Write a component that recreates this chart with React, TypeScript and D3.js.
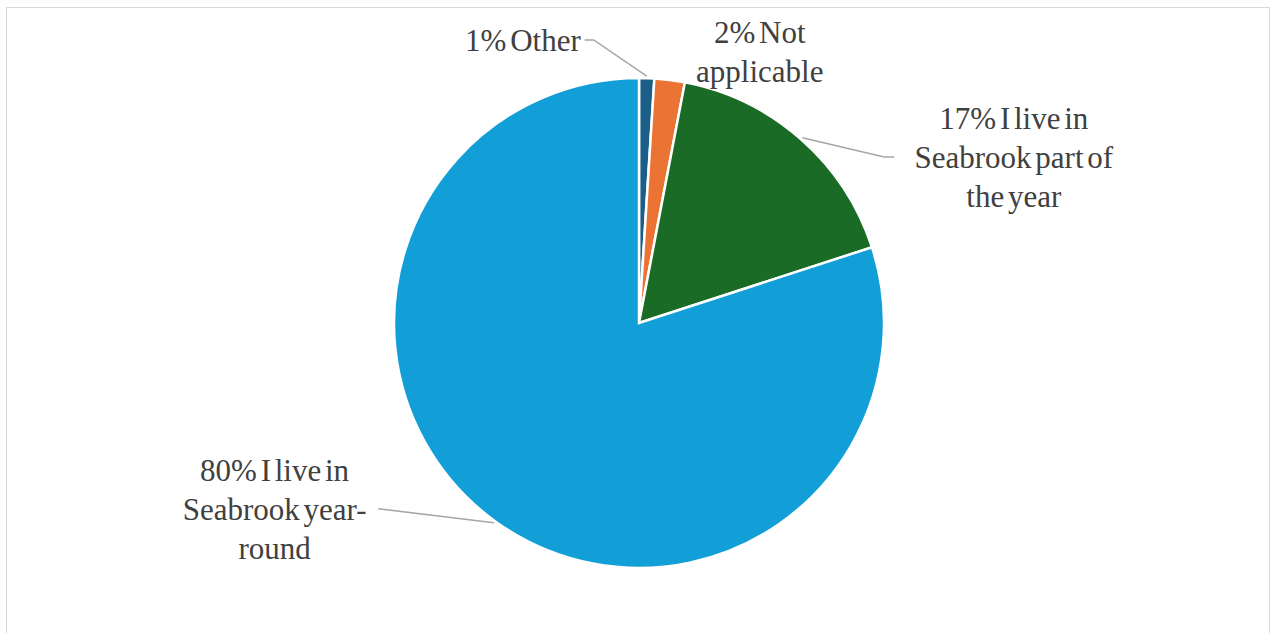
import React from 'react';
import * as d3 from 'd3';

// survey answers, clockwise from 12 o'clock
const categories = ['Other', 'Not applicable', 'I live in Seabrook part of the year', 'I live in Seabrook year-round'];
const values = [1, 2, 17, 80];
const colors = ['#1b5f88', '#eb7333', '#1a6b25', '#129fd7'];

// how each label wraps in the picture
const labelLines = [
  ['1% Other'],
  ['2% Not', 'applicable'],
  ['17% I live in', 'Seabrook part of', 'the year'],
  ['80% I live in', 'Seabrook year-', 'round']
];

// label placement: angle (deg from top, clockwise) and distance from centre
const labelLayout = [
  { angle: -22.3, r: 306, leader: 'right' },
  { angle: 24.0, r: 297, leader: 'none' },
  { angle: 66.1, r: 410, leader: 'left' },
  { angle: -117, r: 409, leader: 'right' }
];

const width = 1271;
const height = 633;
const cx = 639;
const cy = 323;
const radius = 245;
const fontSize = 31;
const lineH = 39;

const App = () => {
  const pie = d3
    .pie<number>()
    .sort(null)
    .value(d => d);
  const arcs = pie(values);
  const arc = d3
    .arc<d3.PieArcDatum<number>>()
    .innerRadius(0)
    .outerRadius(radius);

  const polar = (angleDeg, r) => {
    const a = (angleDeg * Math.PI) / 180;
    return [Math.sin(a) * r, -Math.cos(a) * r];
  };

  const measure = (s: string) => s.length * fontSize * 0.45;

  return (
    <svg
      width={width}
      height={height}
      style={{ position: 'fixed', left: 0, top: 0, background: '#fff' }}
    >
      <rect x={6.5} y={7.5} width={1263} height={660} fill="#fff" stroke="#d9d9d9" strokeWidth={1} />
      <g transform={`translate(${cx},${cy})`}>
        {arcs.map((d, i) => (
          <path key={categories[i]} d={arc(d) || ''} fill={colors[i]} stroke="#fff" strokeWidth={2.5} />
        ))}
        {arcs.map((d, i) => {
          const lay = labelLayout[i];
          const [lx, ly] = polar(lay.angle, lay.r);
          const lines = labelLines[i];
          const top = ly - ((lines.length - 1) * lineH) / 2;
          const mid = ((d.startAngle + d.endAngle) / 2) * (180 / Math.PI);
          const [sx, sy] = polar(mid, radius + 2);
          const midLine = lines[Math.floor(lines.length / 2)];
          const half = measure(midLine) / 2;
          let leader = null;
          if (lay.leader === 'right') {
            const ex = lx + half + 6;
            const ey = ly;
            const kx = i === 0 ? ex + 9 : ex;
            leader = (
              <polyline
                points={`${sx},${sy} ${kx},${ey} ${ex},${ey}`}
                fill="none"
                stroke="#a6a6a6"
                strokeWidth={1.5}
              />
            );
          } else if (lay.leader === 'left') {
            const ex = lx - half - 8;
            const ey = ly;
            leader = (
              <polyline
                points={`${sx},${sy} ${ex - 10},${ey} ${ex},${ey}`}
                fill="none"
                stroke="#a6a6a6"
                strokeWidth={1.5}
              />
            );
          }
          return (
            <g key={'lab' + i}>
              {leader}
              <text
                textAnchor="middle"
                fontFamily="Liberation Serif"
                fontSize={fontSize}
                fill="#404040"
                wordSpacing={-4}
              >
                {lines.map((t, j) => (
                  <tspan key={j} x={lx} y={top + j * lineH} dy="0.35em">
                    {t}
                  </tspan>
                ))}
              </text>
            </g>
          );
        })}
      </g>
    </svg>
  );
};

export default App;
